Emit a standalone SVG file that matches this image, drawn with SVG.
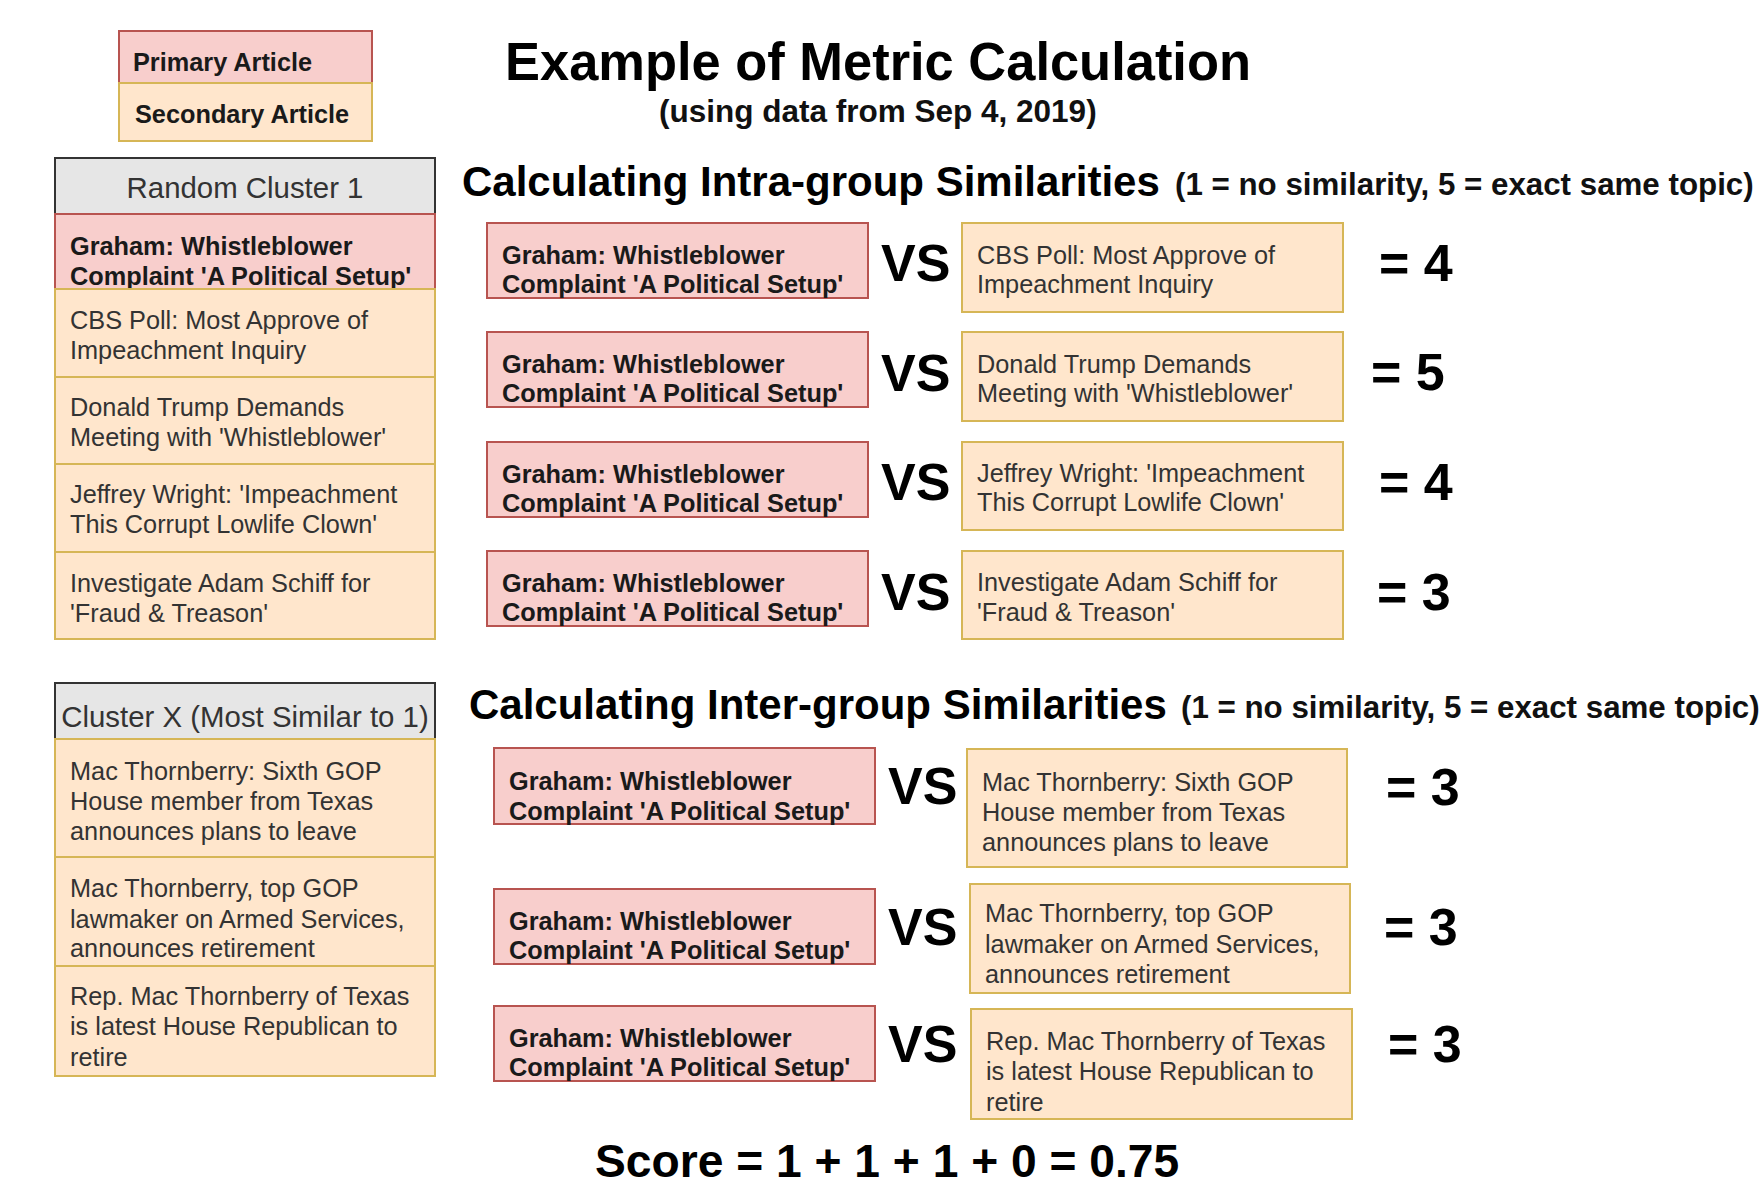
<svg xmlns="http://www.w3.org/2000/svg" width="1759" height="1189" viewBox="0 0 1759 1189">
<style>
text{font-family:"Liberation Sans",Arial,Helvetica,sans-serif;}
.bg{fill:#ffffff;}
.pri{fill:#f8cecc;stroke:#b85450;stroke-width:2;}
.sec{fill:#ffe6cc;stroke:#d6b656;stroke-width:2;}
.hdr{fill:#e6e6e6;stroke:#333333;stroke-width:2;}
.t{font-size:25.3px;fill:#333333;}
.tb{font-size:25.3px;font-weight:bold;fill:#1a1a1a;}
.ht{font-size:29.4px;fill:#333333;text-anchor:middle;}
.vs{font-size:52px;font-weight:bold;fill:#000000;}
.sc{font-size:52px;font-weight:bold;fill:#000000;}
.title{font-size:53px;font-weight:bold;fill:#000000;}
.sub{font-size:31.5px;font-weight:bold;fill:#111111;}
.sh{font-size:42px;font-weight:bold;fill:#000000;}
.shs{font-size:31.3px;font-weight:bold;fill:#111111;}
.score{font-size:46.2px;font-weight:bold;fill:#000000;}
</style>
<rect class="bg" x="0" y="0" width="1759" height="1189"/>

<g id="legend">
  <rect class="pri" x="119" y="31" width="253" height="52"/>
  <rect class="sec" x="119" y="83" width="253" height="58"/>
  <text class="tb" x="133" y="71">Primary Article</text>
  <text class="tb" x="135" y="123">Secondary Article</text>
</g>

<g id="titles">
  <text class="title" x="505" y="80" textLength="746" lengthAdjust="spacingAndGlyphs">Example of Metric Calculation</text>
  <text class="sub" x="659" y="122">(using data from Sep 4, 2019)</text>
  <text x="462" y="196"><tspan class="sh">Calculating Intra-group Similarities</tspan></text>
  <text class="shs" x="1175" y="195">(1 = no similarity, 5 = exact same topic)</text>
  <text x="469" y="719"><tspan class="sh">Calculating Inter-group Similarities</tspan></text>
  <text class="shs" x="1181" y="718">(1 = no similarity, 5 = exact same topic)</text>
</g>

<g id="cluster1">
  <rect class="hdr" x="55" y="158" width="380" height="56"/>
  <text class="ht" x="245" y="198">Random Cluster 1</text>
  <rect class="pri" x="55" y="214" width="380" height="75"/>
  <text class="tb" x="70" y="255">Graham: Whistleblower</text>
  <text class="tb" x="70" y="285">Complaint 'A Political Setup'</text>
  <rect class="sec" x="55" y="289" width="380" height="88"/>
  <text class="t" x="70" y="329">CBS Poll: Most Approve of</text>
  <text class="t" x="70" y="359">Impeachment Inquiry</text>
  <rect class="sec" x="55" y="377" width="380" height="87"/>
  <text class="t" x="70" y="416">Donald Trump Demands</text>
  <text class="t" x="70" y="446">Meeting with 'Whistleblower'</text>
  <rect class="sec" x="55" y="464" width="380" height="88"/>
  <text class="t" x="70" y="503">Jeffrey Wright: 'Impeachment</text>
  <text class="t" x="70" y="533">This Corrupt Lowlife Clown'</text>
  <rect class="sec" x="55" y="552" width="380" height="87"/>
  <text class="t" x="70" y="592">Investigate Adam Schiff for</text>
  <text class="t" x="70" y="622">'Fraud &amp; Treason'</text>
</g>

<g id="clusterX">
  <rect class="hdr" x="55" y="683" width="380" height="56"/>
  <text class="ht" x="245" y="727">Cluster X (Most Similar to 1)</text>
  <rect class="sec" x="55" y="739" width="380" height="118"/>
  <text class="t" x="70" y="780">Mac Thornberry: Sixth GOP</text>
  <text class="t" x="70" y="810">House member from Texas</text>
  <text class="t" x="70" y="840">announces plans to leave</text>
  <rect class="sec" x="55" y="857" width="380" height="109"/>
  <text class="t" x="70" y="897">Mac Thornberry, top GOP</text>
  <text class="t" x="70" y="928">lawmaker on Armed Services,</text>
  <text class="t" x="70" y="957">announces retirement</text>
  <rect class="sec" x="55" y="966" width="380" height="110"/>
  <text class="t" x="70" y="1005">Rep. Mac Thornberry of Texas</text>
  <text class="t" x="70" y="1035">is latest House Republican to</text>
  <text class="t" x="70" y="1066">retire</text>
</g>

<g id="intra1">
  <rect class="pri" x="487" y="223" width="381" height="75"/>
  <text class="tb" x="502" y="264">Graham: Whistleblower</text>
  <text class="tb" x="502" y="293">Complaint 'A Political Setup'</text>
  <text class="vs" x="881" y="281">VS</text>
  <rect class="sec" x="962" y="223" width="381" height="89"/>
  <text class="t" x="977" y="264">CBS Poll: Most Approve of</text>
  <text class="t" x="977" y="293">Impeachment Inquiry</text>
  <text class="sc" x="1379" y="281">= 4</text>
</g>
<g id="intra2">
  <rect class="pri" x="487" y="332" width="381" height="75"/>
  <text class="tb" x="502" y="373">Graham: Whistleblower</text>
  <text class="tb" x="502" y="402">Complaint 'A Political Setup'</text>
  <text class="vs" x="881" y="391">VS</text>
  <rect class="sec" x="962" y="332" width="381" height="89"/>
  <text class="t" x="977" y="373">Donald Trump Demands</text>
  <text class="t" x="977" y="402">Meeting with 'Whistleblower'</text>
  <text class="sc" x="1371" y="390">= 5</text>
</g>
<g id="intra3">
  <rect class="pri" x="487" y="442" width="381" height="75"/>
  <text class="tb" x="502" y="483">Graham: Whistleblower</text>
  <text class="tb" x="502" y="512">Complaint 'A Political Setup'</text>
  <text class="vs" x="881" y="500">VS</text>
  <rect class="sec" x="962" y="442" width="381" height="88"/>
  <text class="t" x="977" y="482">Jeffrey Wright: 'Impeachment</text>
  <text class="t" x="977" y="511">This Corrupt Lowlife Clown'</text>
  <text class="sc" x="1379" y="500">= 4</text>
</g>
<g id="intra4">
  <rect class="pri" x="487" y="551" width="381" height="75"/>
  <text class="tb" x="502" y="592">Graham: Whistleblower</text>
  <text class="tb" x="502" y="621">Complaint 'A Political Setup'</text>
  <text class="vs" x="881" y="610">VS</text>
  <rect class="sec" x="962" y="551" width="381" height="88"/>
  <text class="t" x="977" y="591">Investigate Adam Schiff for</text>
  <text class="t" x="977" y="621">'Fraud &amp; Treason'</text>
  <text class="sc" x="1377" y="610">= 3</text>
</g>

<g id="inter1">
  <rect class="pri" x="494" y="748" width="381" height="76"/>
  <text class="tb" x="509" y="790">Graham: Whistleblower</text>
  <text class="tb" x="509" y="820">Complaint 'A Political Setup'</text>
  <text class="vs" x="888" y="804">VS</text>
  <rect class="sec" x="967" y="749" width="380" height="118"/>
  <text class="t" x="982" y="791">Mac Thornberry: Sixth GOP</text>
  <text class="t" x="982" y="821">House member from Texas</text>
  <text class="t" x="982" y="851">announces plans to leave</text>
  <text class="sc" x="1386" y="805">= 3</text>
</g>
<g id="inter2">
  <rect class="pri" x="494" y="889" width="381" height="75"/>
  <text class="tb" x="509" y="930">Graham: Whistleblower</text>
  <text class="tb" x="509" y="959">Complaint 'A Political Setup'</text>
  <text class="vs" x="888" y="945">VS</text>
  <rect class="sec" x="970" y="884" width="380" height="109"/>
  <text class="t" x="985" y="922">Mac Thornberry, top GOP</text>
  <text class="t" x="985" y="953">lawmaker on Armed Services,</text>
  <text class="t" x="985" y="983">announces retirement</text>
  <text class="sc" x="1384" y="945">= 3</text>
</g>
<g id="inter3">
  <rect class="pri" x="494" y="1006" width="381" height="75"/>
  <text class="tb" x="509" y="1047">Graham: Whistleblower</text>
  <text class="tb" x="509" y="1076">Complaint 'A Political Setup'</text>
  <text class="vs" x="888" y="1062">VS</text>
  <rect class="sec" x="971" y="1009" width="381" height="110"/>
  <text class="t" x="986" y="1050">Rep. Mac Thornberry of Texas</text>
  <text class="t" x="986" y="1080">is latest House Republican to</text>
  <text class="t" x="986" y="1111">retire</text>
  <text class="sc" x="1388" y="1062">= 3</text>
</g>

<g id="score">
  <text class="score" x="595" y="1177">Score = 1 + 1 + 1 + 0 = 0.75</text>
</g>

<g id="connectors"></g>
</svg>
